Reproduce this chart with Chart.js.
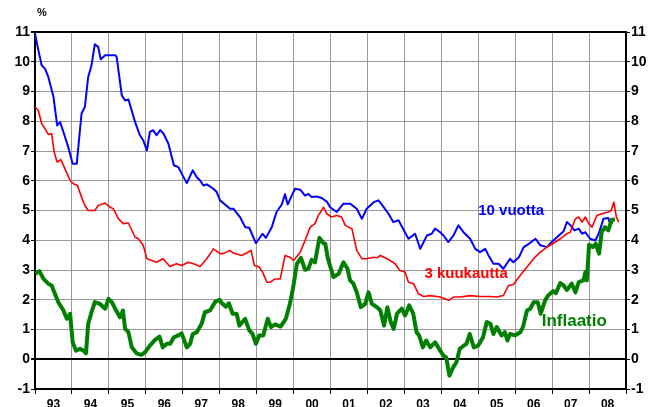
<!DOCTYPE html>
<html>
<head>
<meta charset="utf-8">
<script src="https://cdn.jsdelivr.net/npm/chart.js@4/dist/chart.umd.min.js"></script>
<style>
  body { margin: 0; background: #fff; }
  canvas { display: block; }
</style>
</head>
<body>
<canvas id="chart" width="653" height="407"></canvas>
<script>
// Year tick labels (placed in the middle of each year)
const yearLabels = ['93','94','95','96','97','98','99','00','01','02','03','04','05','06','07','08'];

// 10 year bond yield (10 vuotta)
const bondX = [1993.0,1993.09,1993.18,1993.27,1993.36,1993.5,1993.6,1993.68,1993.77,1993.9,
  1994.02,1994.13,1994.26,1994.35,1994.44,1994.53,1994.62,1994.71,1994.78,1994.9,
  1995.17,1995.21,1995.35,1995.44,1995.53,1995.71,1995.84,1995.93,1996.03,1996.11,
  1996.2,1996.29,1996.39,1996.48,1996.61,1996.76,1996.88,1996.97,1997.11,1997.27,
  1997.38,1997.47,1997.56,1997.65,1997.83,1997.92,1998.01,1998.28,1998.37,1998.55,
  1998.69,1998.8,1998.98,1999.16,1999.25,1999.41,1999.54,1999.68,1999.77,1999.84,
  1999.95,2000.04,2000.18,2000.31,2000.4,2000.49,2000.63,2000.76,2000.9,2000.99,
  2001.17,2001.35,2001.53,2001.71,2001.85,2001.98,2002.17,2002.3,2002.44,2002.57,
  2002.7,2002.84,2003.11,2003.29,2003.43,2003.61,2003.74,2003.83,2003.97,2004.06,
  2004.19,2004.33,2004.46,2004.6,2004.78,2004.92,2005.05,2005.19,2005.28,2005.41,
  2005.55,2005.68,2005.86,2005.95,2006.1,2006.23,2006.37,2006.55,2006.68,2006.86,
  2006.99,2007.13,2007.31,2007.4,2007.5,2007.6,2007.72,2007.81,2007.9,2008.03,
  2008.17,2008.26,2008.39,2008.52,2008.57,2008.65];
const bondY = [10.95,10.39,9.88,9.77,9.49,8.82,7.86,7.97,7.64,7.13,
  6.57,6.57,8.26,8.48,9.49,9.88,10.59,10.5,10.08,10.22,
  10.22,10.16,8.87,8.7,8.73,7.97,7.53,7.36,7.02,7.64,
  7.7,7.53,7.7,7.58,7.25,6.52,6.46,6.24,5.92,6.35,
  6.12,6.01,5.84,5.88,5.73,5.62,5.34,5.06,5.06,4.78,
  4.44,4.42,3.9,4.22,4.08,4.44,4.95,5.2,5.55,5.2,
  5.5,5.73,5.7,5.5,5.56,5.45,5.47,5.42,5.3,5.11,
  4.95,5.23,5.23,5.06,4.72,5.06,5.28,5.34,5.11,4.89,
  4.61,4.67,4.05,4.22,3.71,4.16,4.22,4.39,4.27,4.16,
  3.94,4.16,4.5,4.27,4.05,3.71,3.6,3.71,3.49,3.21,
  3.21,3.04,3.38,3.26,3.43,3.77,3.88,4.05,3.83,3.77,
  3.94,4.1,4.3,4.61,4.5,4.33,4.39,4.22,4.27,4.05,
  3.99,4.22,4.72,4.75,4.56,4.6];

// 3 month rate (3 kuukautta)
const rateX = [1993.0,1993.09,1993.18,1993.27,1993.36,1993.45,1993.52,1993.6,1993.7,1993.81,
  1993.95,1994.04,1994.15,1994.26,1994.35,1994.44,1994.62,1994.71,1994.9,1995.03,
  1995.12,1995.26,1995.39,1995.53,1995.71,1995.8,1995.93,1996.03,1996.16,1996.29,
  1996.47,1996.65,1996.83,1996.97,1997.15,1997.29,1997.47,1997.65,1997.83,1998.01,
  1998.1,1998.28,1998.37,1998.59,1998.73,1998.85,1998.94,1999.07,1999.16,1999.28,
  1999.37,1999.5,1999.64,1999.77,1999.9,2000.0,2000.18,2000.31,2000.45,2000.58,
  2000.67,2000.81,2000.9,2001.03,2001.17,2001.3,2001.4,2001.49,2001.58,2001.71,
  2001.85,2001.98,2002.17,2002.26,2002.35,2002.53,2002.75,2002.88,2003.02,2003.11,
  2003.25,2003.38,2003.52,2003.7,2003.97,2004.2,2004.33,2004.51,2004.78,2005.05,
  2005.32,2005.5,2005.68,2005.82,2005.95,2006.14,2006.32,2006.5,2006.68,2006.86,
  2007.04,2007.22,2007.4,2007.49,2007.63,2007.72,2007.81,2007.9,2007.99,2008.08,
  2008.21,2008.35,2008.52,2008.6,2008.67,2008.74,2008.8];
const rateY = [8.48,8.37,7.92,7.75,7.56,7.58,6.96,6.63,6.71,6.41,
  6.01,5.9,5.84,5.45,5.17,5.0,5.0,5.17,5.25,5.11,
  5.06,4.72,4.56,4.58,4.1,4.05,3.83,3.38,3.32,3.26,
  3.38,3.12,3.21,3.15,3.26,3.21,3.12,3.38,3.71,3.55,
  3.55,3.66,3.57,3.49,3.57,3.66,3.15,3.1,2.93,2.59,
  2.59,2.7,2.7,3.49,3.43,3.32,3.6,3.99,4.44,4.56,
  4.83,5.11,4.89,4.78,4.83,4.78,4.5,4.44,4.39,3.66,
  3.38,3.38,3.43,3.41,3.49,3.38,3.21,2.98,2.93,2.59,
  2.54,2.2,2.11,2.14,2.09,1.98,2.09,2.09,2.14,2.11,
  2.11,2.09,2.14,2.48,2.51,2.82,3.1,3.38,3.6,3.77,
  3.9,4.05,4.22,4.27,4.72,4.78,4.61,4.78,4.56,4.44,
  4.83,4.89,4.95,5.0,5.28,4.78,4.61];

// Inflation (Inflaatio)
const inflX = [1993.0,1993.12,1993.23,1993.36,1993.45,1993.54,1993.63,1993.77,1993.86,1993.95,
  1994.02,1994.11,1994.22,1994.31,1994.38,1994.44,1994.53,1994.62,1994.76,1994.9,
  1994.99,1995.08,1995.17,1995.3,1995.38,1995.44,1995.53,1995.62,1995.75,1995.88,
  1995.98,1996.11,1996.25,1996.37,1996.46,1996.57,1996.66,1996.76,1996.88,1996.97,
  1997.11,1997.2,1997.27,1997.38,1997.51,1997.6,1997.74,1997.87,1997.99,1998.08,
  1998.17,1998.25,1998.35,1998.46,1998.53,1998.69,1998.8,1998.89,1998.98,1999.07,
  1999.18,1999.3,1999.39,1999.5,1999.65,1999.79,1999.9,1999.99,2000.09,2000.2,
  2000.31,2000.4,2000.49,2000.58,2000.7,2000.81,2000.86,2000.93,2001.08,2001.22,
  2001.35,2001.46,2001.53,2001.62,2001.71,2001.82,2001.94,2002.03,2002.12,2002.26,
  2002.35,2002.45,2002.54,2002.63,2002.71,2002.8,2002.93,2003.02,2003.13,2003.24,
  2003.33,2003.4,2003.5,2003.59,2003.7,2003.83,2003.97,2004.06,2004.13,2004.22,
  2004.32,2004.41,2004.5,2004.61,2004.68,2004.77,2004.88,2005.0,2005.13,2005.23,
  2005.33,2005.41,2005.5,2005.63,2005.72,2005.79,2005.86,2005.99,2006.14,2006.21,
  2006.32,2006.41,2006.5,2006.61,2006.69,2006.81,2006.89,2007.03,2007.1,2007.22,
  2007.31,2007.4,2007.53,2007.63,2007.72,2007.85,2007.9,2007.94,2008.0,2008.1,
  2008.18,2008.27,2008.34,2008.43,2008.52,2008.61,2008.7];
const inflY = [2.87,2.96,2.7,2.54,2.48,2.2,1.92,1.64,1.36,1.53,
  0.57,0.29,0.35,0.29,0.2,1.19,1.58,1.92,1.86,1.7,
  2.03,1.92,1.7,1.41,1.64,1.02,0.91,0.4,0.2,0.15,
  0.24,0.46,0.65,0.76,0.4,0.52,0.52,0.74,0.8,0.87,
  0.4,0.52,0.85,0.91,1.19,1.58,1.64,1.92,2.0,1.86,
  1.77,1.88,1.53,1.53,1.13,1.36,0.97,0.85,0.52,0.8,
  0.8,1.36,1.08,1.17,1.1,1.36,1.86,2.42,3.21,3.41,
  3.01,3.04,3.34,3.26,4.08,3.9,3.88,3.38,2.76,2.87,
  3.26,3.04,2.65,2.54,2.25,1.75,1.86,2.25,1.86,1.75,
  1.64,1.13,1.75,1.25,1.02,1.53,1.7,1.47,1.81,1.53,
  0.91,0.8,0.4,0.63,0.4,0.57,0.29,0.12,0.07,-0.55,
  -0.27,-0.1,0.35,0.46,0.52,0.85,0.4,0.46,0.74,1.25,
  1.19,0.85,1.08,0.8,0.91,0.63,0.85,0.8,0.91,1.08,
  1.64,1.7,1.92,1.92,1.53,1.98,2.14,2.29,2.22,2.56,
  2.48,2.33,2.54,2.25,2.59,2.65,2.93,2.65,3.85,3.77,
  3.88,3.55,4.27,4.44,4.33,4.69,4.69];

function points(xs, ys) {
    return xs.map((x, i) => ({ x: x, y: ys[i] }));
}

const boldFont = 'Liberation Sans, Arial, sans-serif';

// Text labels drawn inside the plot (in data coordinates)
const textPlugin = {
    id: 'texts',
    afterDatasetsDraw(chart) {
        const ctx = chart.ctx;
        const x = chart.scales.x;
        const y = chart.scales.y;
        ctx.save();
        ctx.textAlign = 'center';
        ctx.textBaseline = 'middle';
        ctx.font = 'bold 15px ' + boldFont;
        ctx.fillStyle = '#0000ff';
        ctx.fillText('10 vuotta', x.getPixelForValue(2005.89), y.getPixelForValue(4.98));
        ctx.fillStyle = '#ff0000';
        ctx.fillText('3 kuukautta', x.getPixelForValue(2004.67), y.getPixelForValue(2.87));
        ctx.font = 'bold 17px ' + boldFont;
        ctx.fillStyle = '#008000';
        ctx.fillText('Inflaatio', x.getPixelForValue(2007.6), y.getPixelForValue(1.28));
        ctx.font = 'bold 11px ' + boldFont;
        ctx.fillStyle = '#000';
        ctx.fillText('%', chart.chartArea.left + 7, chart.chartArea.top - 19);
        ctx.restore();
    }
};

function gridColor(c) {
    const v = c.tick.value;
    return (v === 0 || v === 11) ? '#000' : '#999';
}
function gridWidth(c) {
    const v = c.tick.value;
    return (v === 0 || v === 11) ? 2 : 1;
}

const yTicks = {
    stepSize: 1,
    color: '#000',
    padding: 1,
    font: { family: boldFont, size: 14, weight: 'bold' }
};

new Chart(document.getElementById('chart').getContext('2d'), {
    type: 'line',
    data: {
        datasets: [
            { label: 'Inflaatio', data: points(inflX, inflY), borderColor: '#008000', borderWidth: 4 },
            { label: '3 kuukautta', data: points(rateX, rateY), borderColor: '#ff0000', borderWidth: 1.6 },
            { label: '10 vuotta', data: points(bondX, bondY), borderColor: '#0000ff', borderWidth: 2 }
        ]
    },
    options: {
        responsive: false,
        animation: false,
        layout: { padding: { top: 32, left: 0, right: 0, bottom: 0 } },
        elements: {
            point: { radius: 0 },
            line: { tension: 0, fill: false, borderJoinStyle: 'round' }
        },
        plugins: {
            legend: { display: false },
            tooltip: { enabled: false }
        },
        scales: {
            x: {
                type: 'linear',
                min: 1993,
                max: 2009,
                afterFit: (s) => { s.height = 18; },
                grid: { color: '#999', tickColor: '#000', tickLength: 5 },
                border: { color: '#000', width: 2 },
                ticks: {
                    stepSize: 1,
                    autoSkip: false,
                    maxRotation: 0,
                    padding: 3,
                    labelOffset: 18.5,
                    color: '#000',
                    font: { family: boldFont, size: 12, weight: 'bold' },
                    callback: (v) => yearLabels[v - 1993] || ''
                }
            },
            y: {
                position: 'left',
                min: -1,
                max: 11,
                afterFit: (s) => { s.width = 35; },
                grid: { color: gridColor, lineWidth: gridWidth, tickColor: '#000', tickLength: 4 },
                border: { color: '#000', width: 2 },
                ticks: yTicks
            },
            y2: {
                position: 'right',
                min: -1,
                max: 11,
                afterFit: (s) => { s.width = 27; },
                grid: { drawOnChartArea: false, tickColor: '#000', tickLength: 4 },
                border: { color: '#000', width: 2 },
                ticks: yTicks
            }
        }
    },
    plugins: [textPlugin]
});
</script>
</body>
</html>
